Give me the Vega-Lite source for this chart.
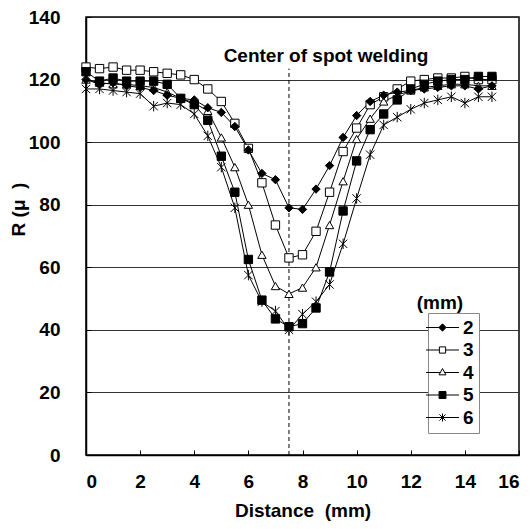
{
  "$schema": "https://vega.github.io/schema/vega-lite/v6.json",
  "width": 433,
  "height": 438,
  "autosize": {"type": "none"},
  "padding": {"left": 86, "top": 17, "right": 12, "bottom": 74},
  "background": "white",
  "config": {
    "font": "Liberation Sans",
    "view": {"stroke": "black", "strokeWidth": 1.5},
    "axis": {"labelFont": "Liberation Sans", "labelFontSize": 19, "labelFontWeight": "bold", "labelColor": "black", "titleFont": "Liberation Sans", "titleFontSize": 19, "titleFontWeight": "bold", "titleColor": "black", "domainColor": "black", "domainWidth": 1.5, "tickColor": "black", "tickWidth": 1}
  },
  "datasets": {
    "curves": [
      {"d":0,"R":120,"s":"2"},{"d":0.5,"R":118.5,"s":"2"},{"d":1,"R":119,"s":"2"},{"d":1.5,"R":118,"s":"2"},{"d":2,"R":117.5,"s":"2"},{"d":2.5,"R":116.5,"s":"2"},{"d":3,"R":115,"s":"2"},{"d":3.5,"R":114,"s":"2"},{"d":4,"R":113.5,"s":"2"},{"d":4.5,"R":111,"s":"2"},{"d":5,"R":109.5,"s":"2"},{"d":5.5,"R":105,"s":"2"},{"d":6,"R":97.5,"s":"2"},{"d":6.5,"R":90,"s":"2"},{"d":7,"R":88,"s":"2"},{"d":7.5,"R":79,"s":"2"},{"d":8,"R":78.5,"s":"2"},{"d":8.5,"R":85,"s":"2"},{"d":9,"R":92.5,"s":"2"},{"d":9.5,"R":101.5,"s":"2"},{"d":10,"R":108.5,"s":"2"},{"d":10.5,"R":113,"s":"2"},{"d":11,"R":115,"s":"2"},{"d":11.5,"R":116,"s":"2"},{"d":12,"R":116.5,"s":"2"},{"d":12.5,"R":117,"s":"2"},{"d":13,"R":117.5,"s":"2"},{"d":13.5,"R":118,"s":"2"},{"d":14,"R":118,"s":"2"},{"d":14.5,"R":117,"s":"2"},{"d":15,"R":118,"s":"2"},
      {"d":0,"R":124,"s":"3"},{"d":0.5,"R":123.5,"s":"3"},{"d":1,"R":124,"s":"3"},{"d":1.5,"R":123,"s":"3"},{"d":2,"R":123,"s":"3"},{"d":2.5,"R":122.5,"s":"3"},{"d":3,"R":122,"s":"3"},{"d":3.5,"R":121.5,"s":"3"},{"d":4,"R":120,"s":"3"},{"d":4.5,"R":117,"s":"3"},{"d":5,"R":113,"s":"3"},{"d":5.5,"R":106,"s":"3"},{"d":6,"R":98,"s":"3"},{"d":6.5,"R":87,"s":"3"},{"d":7,"R":73.5,"s":"3"},{"d":7.5,"R":63,"s":"3"},{"d":8,"R":64,"s":"3"},{"d":8.5,"R":71.5,"s":"3"},{"d":9,"R":84,"s":"3"},{"d":9.5,"R":97,"s":"3"},{"d":10,"R":104.5,"s":"3"},{"d":10.5,"R":112,"s":"3"},{"d":11,"R":114.5,"s":"3"},{"d":11.5,"R":117,"s":"3"},{"d":12,"R":119.5,"s":"3"},{"d":12.5,"R":120,"s":"3"},{"d":13,"R":120.5,"s":"3"},{"d":13.5,"R":120.5,"s":"3"},{"d":14,"R":121,"s":"3"},{"d":14.5,"R":120,"s":"3"},{"d":15,"R":120,"s":"3"},
      {"d":0,"R":120,"s":"4"},{"d":0.5,"R":119,"s":"4"},{"d":1,"R":118.5,"s":"4"},{"d":1.5,"R":118.5,"s":"4"},{"d":2,"R":118,"s":"4"},{"d":2.5,"R":117.5,"s":"4"},{"d":3,"R":116,"s":"4"},{"d":3.5,"R":114,"s":"4"},{"d":4,"R":112.5,"s":"4"},{"d":4.5,"R":110,"s":"4"},{"d":5,"R":101.5,"s":"4"},{"d":5.5,"R":92,"s":"4"},{"d":6,"R":80,"s":"4"},{"d":6.5,"R":64,"s":"4"},{"d":7,"R":54,"s":"4"},{"d":7.5,"R":51.5,"s":"4"},{"d":8,"R":53.5,"s":"4"},{"d":8.5,"R":60,"s":"4"},{"d":9,"R":73.5,"s":"4"},{"d":9.5,"R":87.5,"s":"4"},{"d":10,"R":101,"s":"4"},{"d":10.5,"R":107.5,"s":"4"},{"d":11,"R":113,"s":"4"},{"d":11.5,"R":115,"s":"4"},{"d":12,"R":116.5,"s":"4"},{"d":12.5,"R":117.5,"s":"4"},{"d":13,"R":118,"s":"4"},{"d":13.5,"R":118.5,"s":"4"},{"d":14,"R":118.5,"s":"4"},{"d":14.5,"R":118,"s":"4"},{"d":15,"R":118,"s":"4"},
      {"d":0,"R":122.5,"s":"5"},{"d":0.5,"R":119.5,"s":"5"},{"d":1,"R":120.5,"s":"5"},{"d":1.5,"R":119.5,"s":"5"},{"d":2,"R":119.5,"s":"5"},{"d":2.5,"R":119.5,"s":"5"},{"d":3,"R":118.5,"s":"5"},{"d":3.5,"R":114,"s":"5"},{"d":4,"R":112,"s":"5"},{"d":4.5,"R":107,"s":"5"},{"d":5,"R":95.5,"s":"5"},{"d":5.5,"R":84,"s":"5"},{"d":6,"R":62.5,"s":"5"},{"d":6.5,"R":49.5,"s":"5"},{"d":7,"R":43.5,"s":"5"},{"d":7.5,"R":41,"s":"5"},{"d":8,"R":42,"s":"5"},{"d":8.5,"R":47,"s":"5"},{"d":9,"R":58.5,"s":"5"},{"d":9.5,"R":78,"s":"5"},{"d":10,"R":94,"s":"5"},{"d":10.5,"R":104,"s":"5"},{"d":11,"R":109,"s":"5"},{"d":11.5,"R":113.5,"s":"5"},{"d":12,"R":117,"s":"5"},{"d":12.5,"R":118.5,"s":"5"},{"d":13,"R":119.5,"s":"5"},{"d":13.5,"R":120,"s":"5"},{"d":14,"R":120,"s":"5"},{"d":14.5,"R":121,"s":"5"},{"d":15,"R":121,"s":"5"},
      {"d":0,"R":117,"s":"6"},{"d":0.5,"R":117,"s":"6"},{"d":1,"R":116.5,"s":"6"},{"d":1.5,"R":116,"s":"6"},{"d":2,"R":115.5,"s":"6"},{"d":2.5,"R":111.5,"s":"6"},{"d":3,"R":112.5,"s":"6"},{"d":3.5,"R":112,"s":"6"},{"d":4,"R":109,"s":"6"},{"d":4.5,"R":102,"s":"6"},{"d":5,"R":92,"s":"6"},{"d":5.5,"R":79,"s":"6"},{"d":6,"R":57.5,"s":"6"},{"d":6.5,"R":49,"s":"6"},{"d":7,"R":46,"s":"6"},{"d":7.5,"R":40,"s":"6"},{"d":8,"R":45,"s":"6"},{"d":8.5,"R":49,"s":"6"},{"d":9,"R":54.5,"s":"6"},{"d":9.5,"R":67.5,"s":"6"},{"d":10,"R":82,"s":"6"},{"d":10.5,"R":96,"s":"6"},{"d":11,"R":105.5,"s":"6"},{"d":11.5,"R":108,"s":"6"},{"d":12,"R":110.5,"s":"6"},{"d":12.5,"R":112.5,"s":"6"},{"d":13,"R":113.5,"s":"6"},{"d":13.5,"R":114.5,"s":"6"},{"d":14,"R":112.5,"s":"6"},{"d":14.5,"R":114.5,"s":"6"},{"d":15,"R":114.5,"s":"6"}
    ]
  },
  "resolve": {"scale": {"shape": "independent", "fill": "independent"}},
  "layer": [
    {
      "data": {"values": [{"d": 7.5, "y0": 0, "y1": 123.5}]},
      "mark": {"type": "rule", "color": "black", "strokeWidth": 1, "strokeDash": [4, 3]},
      "encoding": {
        "x": {"field": "d", "type": "quantitative", "scale": {"domain": [0, 16], "nice": false}},
        "y": {"field": "y0", "type": "quantitative", "scale": {"domain": [0, 140], "nice": false}},
        "y2": {"field": "y1"}
      }
    },
    {
      "data": {"name": "curves"},
      "mark": {"type": "line", "color": "black", "strokeWidth": 1},
      "encoding": {
        "x": {"field": "d", "type": "quantitative", "scale": {"domain": [0, 16], "nice": false},
          "axis": {"values": [0,2,4,6,8,10,12,14,16], "grid": false, "tickSize": -5, "labelPadding": 22, "title": "Distance\u00a0\u00a0(mm)", "titlePadding": 10}},
        "y": {"field": "R", "type": "quantitative", "scale": {"domain": [0, 140], "nice": false},
          "axis": {"values": [0,20,40,60,80,100,120,140], "grid": true, "gridColor": "#333", "gridWidth": 1, "tickSize": -5, "labelPadding": 31, "title": "R (μ\u00a0\u00a0)", "titleAngle": 270, "titleAlign": "center", "titleBaseline": "middle", "titleX": -68, "titleY": 192}},
        "detail": {"field": "s"}
      }
    },
    {
      "data": {"name": "curves"},
      "transform": [{"filter": "datum.s == '3' || datum.s == '4'"}],
      "mark": {"type": "point", "filled": true, "fill": "white", "stroke": "black", "strokeWidth": 1, "opacity": 1, "size": 70},
      "encoding": {
        "x": {"field": "d", "type": "quantitative"},
        "y": {"field": "R", "type": "quantitative"},
        "shape": {"field": "s", "type": "nominal",
          "scale": {"domain": ["2","3","4","5","6"], "range": ["diamond", "square", "triangle-up", "square", "M-1,-1L1,1M-1,1L1,-1M0,-1.25V1.25"]},
          "legend": null}
      }
    },
    {
      "data": {"name": "curves"},
      "transform": [{"filter": "datum.s == '2' || datum.s == '5' || datum.s == '6'"}],
      "mark": {"type": "point", "filled": true, "fill": "black", "stroke": "black", "strokeWidth": 1, "opacity": 1, "size": 70},
      "encoding": {
        "x": {"field": "d", "type": "quantitative"},
        "y": {"field": "R", "type": "quantitative"},
        "shape": {"field": "s", "type": "nominal",
          "scale": {"domain": ["2","3","4","5","6"], "range": ["diamond", "square", "triangle-up", "square", "M-1,-1L1,1M-1,1L1,-1M0,-1.25V1.25"]},
          "legend": null}
      }
    },
    {
      "data": {"name": "curves"},
      "mark": {"type": "point", "filled": false, "stroke": "black", "strokeWidth": 1, "opacity": 0, "size": 1},
      "encoding": {
        "x": {"field": "d", "type": "quantitative"},
        "y": {"field": "R", "type": "quantitative"},
        "shape": {"field": "s", "type": "nominal",
          "scale": {"domain": ["2","3","4","5","6"], "range": [
            "M-1.9,0H-0.42M0.42,0H1.9M-0.42,0L0,-0.42L0.42,0L0,0.42Z",
            "M-1.9,0H-0.36M0.36,0H1.9M-0.36,-0.36H0.36V0.36H-0.36Z",
            "M-1.9,0H-0.25M0.25,0H1.9M0,-0.46L0.4,0.27L-0.4,0.27Z",
            "M-1.9,0H-0.4M0.4,0H1.9M-0.4,-0.4H0.4V0.4H-0.4Z",
            "M-1.9,0H1.9M-0.36,-0.36L0.36,0.36M-0.36,0.36L0.36,-0.36M0,-0.46V0.46"]},
          "legend": {"title": null, "orient": "none", "legendX": 342, "legendY": 296, "padding": 5, "strokeColor": "#888", "fillColor": "white", "symbolSize": 300, "symbolOpacity": 1, "symbolStrokeWidth": 1, "labelFont": "Liberation Sans", "labelFontSize": 19, "labelFontWeight": "bold", "labelColor": "black", "labelOffset": 11, "rowPadding": 2.5}},
        "fill": {"field": "s", "type": "nominal", "scale": {"domain": ["2","3","4","5","6"], "range": ["black", "white", "white", "black", "black"]}, "legend": null}
      }
    },
    {
      "data": {"values": [{"d": 8.87, "y": 127.5, "label": "Center of spot welding"}, {"d": 13.08, "y": 48.6, "label": "(mm)"}]},
      "mark": {"type": "text", "font": "Liberation Sans", "fontSize": 19, "fontWeight": "bold", "color": "black", "align": "center", "baseline": "middle"},
      "encoding": {
        "x": {"field": "d", "type": "quantitative"},
        "y": {"field": "y", "type": "quantitative"},
        "text": {"field": "label"}
      }
    }
  ]
}
